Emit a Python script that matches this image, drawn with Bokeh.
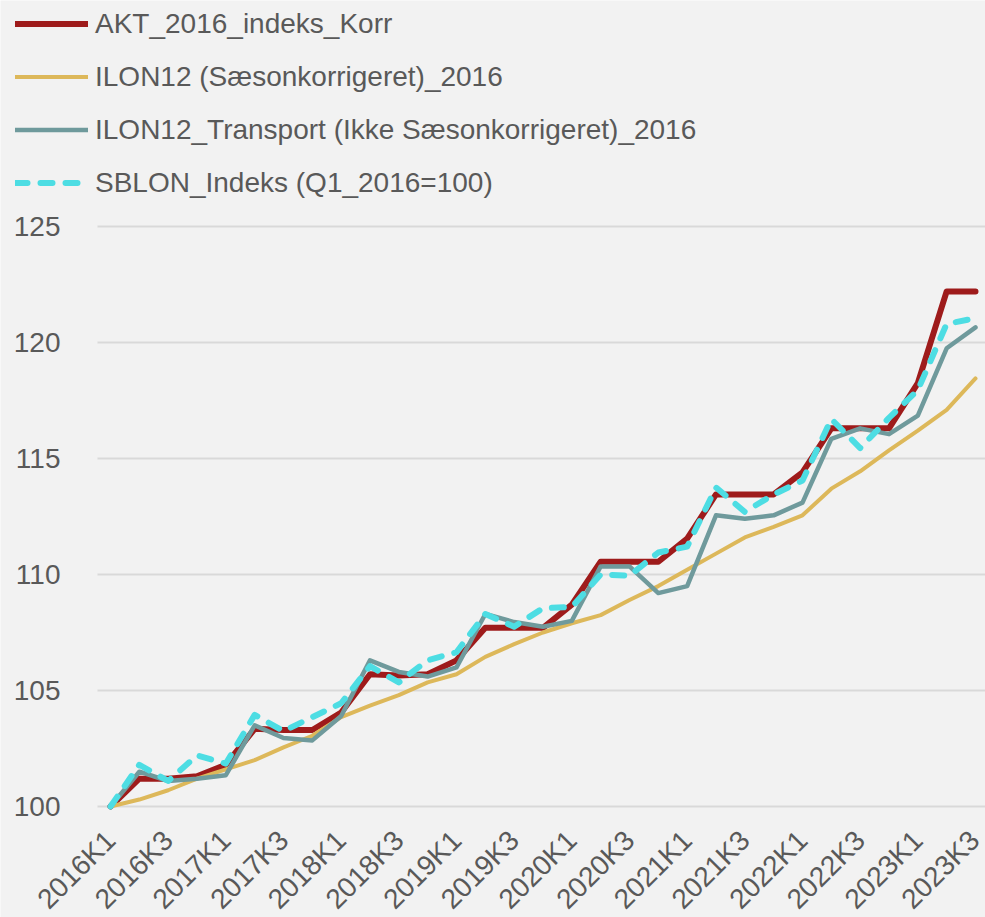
import math
from bokeh.plotting import figure
from bokeh.models import FixedTicker, Legend, LegendItem, Range1d, ColumnDataSource
from bokeh.embed import file_html
from bokeh.resources import INLINE

quarters = ["2016K1", "2016K2", "2016K3", "2016K4", "2017K1", "2017K2", "2017K3", "2017K4",
            "2018K1", "2018K2", "2018K3", "2018K4", "2019K1", "2019K2", "2019K3", "2019K4",
            "2020K1", "2020K2", "2020K3", "2020K4", "2021K1", "2021K2", "2021K3", "2021K4",
            "2022K1", "2022K2", "2022K3", "2022K4", "2023K1", "2023K2", "2023K3"]

akt = [100, 101.2, 101.2, 101.3, 101.8, 103.35, 103.3, 103.3, 104.05, 105.7, 105.65, 105.7,
       106.3, 107.7, 107.7, 107.7, 108.7, 110.55, 110.55, 110.55, 111.55, 113.45, 113.45, 113.45,
       114.4, 116.3, 116.3, 116.3, 118.25, 122.2, 122.2]

ilon_saeson = [100, 100.3, 100.7, 101.2, 101.6, 102.0, 102.55, 103.05, 103.85, 104.35, 104.8, 105.35,
               105.7, 106.45, 107.0, 107.5, 107.9, 108.25, 108.9, 109.5, 110.2, 110.9, 111.6, 112.05,
               112.55, 113.7, 114.45, 115.35, 116.2, 117.1, 118.45]

ilon_transport = [100, 101.5, 101.1, 101.2, 101.35, 103.5, 102.95, 102.85, 103.9, 106.3, 105.8, 105.6,
                  106.0, 108.3, 107.95, 107.75, 108.0, 110.35, 110.35, 109.2, 109.5, 112.55, 112.4, 112.55,
                  113.1, 115.85, 116.3, 116.05, 116.85, 119.75, 120.65]

sblon = [100, 101.8, 101.1, 102.2, 101.85, 103.95, 103.25, 103.85, 104.45, 106.05, 105.35, 106.3,
         106.65, 108.3, 107.75, 108.55, 108.6, 110.0, 109.95, 110.95, 111.2, 113.75, 112.7, 113.45,
         114.05, 116.7, 115.45, 116.75, 117.95, 120.8, 121.05]

series_names = ["AKT_2016_indeks_Korr", "ILON12 (Sæsonkorrigeret)_2016",
                "ILON12_Transport (Ikke Sæsonkorrigeret)_2016", "SBLON_Indeks (Q1_2016=100)"]

y_ticks = [100, 105, 110, 115, 120, 125]

FONT = "Liberation Sans"
TEXT = "#595959"
BG = "#F2F2F2"

X_LEFT = -0.451   # left edge of the plotting area (where gridlines start)
X_RIGHT = 30.347

x = list(range(len(quarters)))
src = ColumnDataSource(dict(x=x, akt=akt, ils=ilon_saeson, ilt=ilon_transport, sb=sblon))

p = figure(width=985, height=917, output_backend="svg", toolbar_location=None,
           x_range=Range1d(-3.815, X_RIGHT), y_range=Range1d(95.216, 134.741),
           min_border_left=0, min_border_right=0, min_border_top=0, min_border_bottom=0)
p.background_fill_color = BG
p.border_fill_color = BG
p.outline_line_color = None

# horizontal gridlines restricted to the plotting area
p.segment(x0=[X_LEFT] * len(y_ticks), x1=[X_RIGHT] * len(y_ticks), y0=y_ticks, y1=y_ticks,
          line_color="#D9D9D9", line_width=2)

r1 = p.line("x", "akt", source=src, line_color="#9E1B1B", line_width=6, line_join="round", line_cap="round")
r2 = p.line("x", "ils", source=src, line_color="#DDB85A", line_width=4, line_join="round", line_cap="round")
r3 = p.line("x", "ilt", source=src, line_color="#6F9A9C", line_width=4.5, line_join="round", line_cap="round")
r4 = p.line("x", "sb", source=src, line_color="#4DDDE3", line_width=6, line_dash="12 13",
            line_join="round", line_cap="round")

# axes (fixed inside the frame so that the legend can sit at the far left)
p.xaxis.ticker = FixedTicker(ticks=x[::2])
p.xaxis.major_label_overrides = {i: quarters[i] for i in x[::2]}
p.xaxis.major_label_orientation = math.pi / 4
p.xaxis.fixed_location = y_ticks[0]
p.yaxis.ticker = FixedTicker(ticks=y_ticks)
p.yaxis.fixed_location = X_LEFT
for ax in (p.xaxis, p.yaxis):
    ax.axis_line_color = None
    ax.major_tick_line_color = None
    ax.minor_tick_line_color = None
    ax.major_label_text_font = FONT
    ax.major_label_text_font_size = "28px"
    ax.major_label_text_color = TEXT
p.yaxis.major_label_standoff = 31
p.xaxis.major_label_standoff = 23

p.xgrid.grid_line_color = None
p.ygrid.grid_line_color = None

legend = Legend(items=[LegendItem(label=series_names[0], renderers=[r1]),
                       LegendItem(label=series_names[1], renderers=[r2]),
                       LegendItem(label=series_names[2], renderers=[r3]),
                       LegendItem(label=series_names[3], renderers=[r4])],
                location=(15, 718), orientation="vertical")
legend.background_fill_alpha = 0
legend.border_line_color = None
legend.padding = 0
legend.margin = 0
legend.spacing = 20
legend.glyph_width = 73
legend.glyph_height = 33
legend.label_height = 33
legend.label_standoff = 7
legend.label_text_font = FONT
legend.label_text_font_size = "28px"
legend.label_text_color = TEXT
p.add_layout(legend)

open("out.html", "w").write(file_html(p, INLINE))
